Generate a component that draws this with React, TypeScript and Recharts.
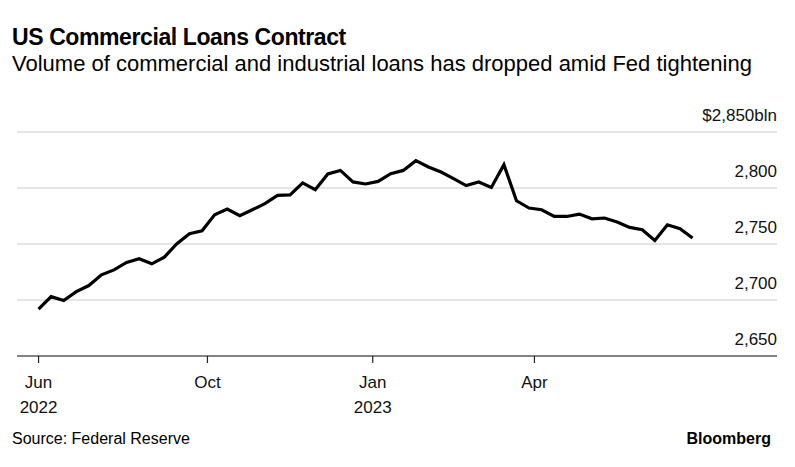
import { CartesianGrid, Line, LineChart, XAxis, YAxis } from 'recharts'

// weekly C&I loans, $bln, starting Wed 2022-06-29
const values = [
  2691.8, 2703.0, 2699.5, 2707.5, 2712.9, 2722.5, 2726.9, 2733.5, 2736.8, 2732.3,
  2738.3, 2750.2, 2759.1, 2761.8, 2776.1, 2781.2, 2775.2, 2780.6, 2786.0, 2793.4,
  2793.8, 2804.5, 2798.5, 2812.5, 2815.7, 2805.4, 2803.6, 2805.9, 2812.8, 2815.7,
  2824.4, 2818.8, 2814.3, 2808.3, 2802.1, 2805.4, 2800.5, 2820.8, 2788.6, 2782.1,
  2780.6, 2774.6, 2774.6, 2776.7, 2772.5, 2773.2, 2769.6, 2764.8, 2762.7, 2753.1,
  2767.2, 2763.6, 2755.3,
]
// days since first observation
const days = values.map((_, i) => i * 7)

const xTicks = [0, 94, 186, 276]
const xTickMonth = ['Jun', 'Oct', 'Jan', 'Apr']
const xTickYear = ['2022', '', '2023', '']

const yTicks = [2650, 2700, 2750, 2800, 2850]

const chartData = values.map((v, i) => ({ day: days[i], value: v }))

const font = '"Liberation Sans", Arial, sans-serif'

function XTick(props: any) {
  const { x, y, payload } = props
  const i = xTicks.indexOf(payload.value)
  return (
    <g>
      <text x={x} y={y + 25} textAnchor="middle" fontSize={17} fill="#111" fontFamily={font}>
        {xTickMonth[i]}
      </text>
      <text x={x} y={y + 50} textAnchor="middle" fontSize={17} fill="#111" fontFamily={font}>
        {xTickYear[i]}
      </text>
    </g>
  )
}

// labels sit above their gridline, right-aligned to the plot edge
function YTick(props: any) {
  const { x, y, payload } = props
  const v = payload.value as number
  const label = v === 2850 ? '$2,850bln' : v.toLocaleString('en-US')
  return (
    <text x={x} y={y - 11} textAnchor="end" fontSize={17} fill="#111" fontFamily={font}>
      {label}
    </text>
  )
}

export default function App() {
  return (
    <div
      style={{
        position: 'absolute',
        left: 0,
        top: 0,
        width: 795,
        height: 467,
        background: '#fff',
        fontFamily: font,
        color: '#000',
      }}
    >
      <div style={{ position: 'absolute', left: 12, top: 24, fontSize: 23, fontWeight: 700, letterSpacing: -0.4 }}>
        US Commercial Loans Contract
      </div>
      <div style={{ position: 'absolute', left: 12, top: 51, fontSize: 22 }}>
        Volume of commercial and industrial loans has dropped amid Fed tightening
      </div>
      <LineChart
        width={795}
        height={467}
        data={chartData}
        margin={{ top: 132, right: 18, bottom: 71, left: 17 }}
      >
        <CartesianGrid vertical={false} stroke="#dcdcdc" strokeWidth={1.5} />
        <XAxis
          dataKey="day"
          type="number"
          domain={[-12, 411]}
          ticks={xTicks}
          height={40}
          tick={<XTick />}
          tickSize={7}
          tickMargin={0}
          axisLine={{ stroke: '#222', strokeWidth: 1.2 }}
          tickLine={{ stroke: '#222', strokeWidth: 1.2 }}
          interval={0}
        />
        <YAxis
          orientation="right"
          mirror
          domain={[2650, 2850]}
          ticks={yTicks}
          width={10}
          axisLine={false}
          tickLine={false}
          tickSize={0}
          tickMargin={0}
          tick={<YTick />}
          interval={0}
        />
        <Line
          type="linear"
          dataKey="value"
          stroke="#000"
          strokeWidth={3.2}
          dot={false}
          strokeLinejoin="miter"
          isAnimationActive={false}
        />
      </LineChart>
      <div style={{ position: 'absolute', left: 12, top: 430, fontSize: 16 }}>Source: Federal Reserve</div>
      <div style={{ position: 'absolute', right: 24, top: 430, fontSize: 16, fontWeight: 700 }}>Bloomberg</div>
    </div>
  )
}
